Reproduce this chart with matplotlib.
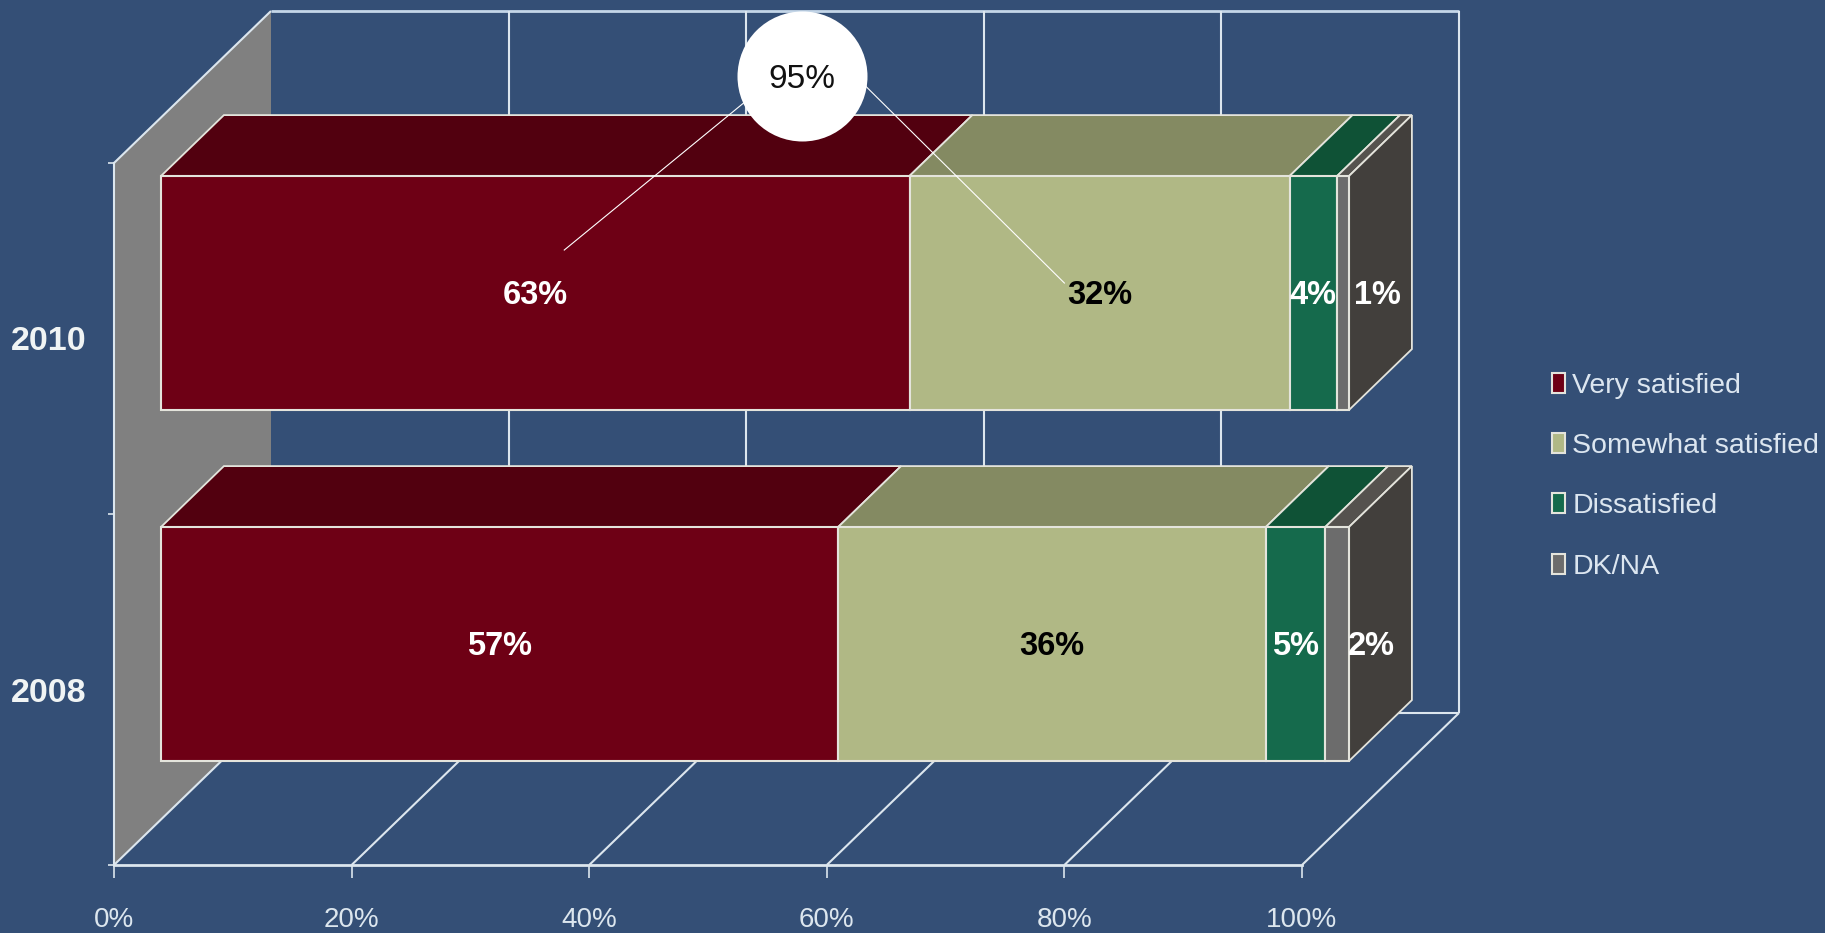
import matplotlib
matplotlib.use("Agg")
import matplotlib.pyplot as plt
from matplotlib.patches import Polygon

# datos del grafico
years = ["2008", "2010"]
series = ["Very satisfied", "Somewhat satisfied", "Dissatisfied", "DK/NA"]
very = [57, 63]
somewhat = [36, 32]
dissatisfied = [5, 4]
dkna = [2, 1]
xticks = [0, 20, 40, 60, 80, 100]
combined_label = "95%"

front_colors = ["#6E0015", "#B0B885", "#156A4C", "#6C6C6C"]
top_colors = ["#52000F", "#848A62", "#0F5236", "#55524E"]
label_colors = [["white", "black", "white", "white"],
                ["white", "black", "white", "white"]]
side_color = "#423F3C"
wall_color = "#808080"
bg = "#344F76"
line = "#DCE6EE"
edge = "#E4E4DC"

W, H = 1825, 933
# plano frontal en pixeles
px_left, px_right, px_bottom, px_top = 114, 1302, 865, 163
DX = 157 / (px_right - px_left) * 100   # desplazamiento de profundidad en unidades x
DY = 152 / (px_bottom - px_top) * 2     # desplazamiento de profundidad en unidades y
BAR_H = 2 / 3
D0, D1 = 0.30, 0.70                     # la barra ocupa esta parte de la profundidad

plt.rcParams["font.family"] = ["Liberation Sans", "DejaVu Sans"]

fig = plt.figure(figsize=(W / 100, H / 100), dpi=100, facecolor=bg)
ax = fig.add_axes([px_left / W, 1 - px_bottom / H, (px_right - px_left) / W, (px_bottom - px_top) / H])
ax.set_facecolor("none")
ax.patch.set_visible(False)
ax.set_xlim(0, 100)
ax.set_ylim(0, 2)


def pt(x, y, d=0.0):
    # proyeccion oblicua: x e y del plano frontal + profundidad d
    return x + d * DX, y + d * DY


def poly(points, color, z, ec=edge, lw=1.3):
    ax.add_patch(Polygon(points, closed=True, facecolor=color, edgecolor=ec, linewidth=lw,
                         joinstyle="miter", clip_on=False, zorder=z))


def seg(a, b, z=2, lw=1.5, color=line):
    ax.plot([a[0], b[0]], [a[1], b[1]], color=color, lw=lw, clip_on=False, zorder=z,
            solid_capstyle="butt")


# pared izquierda
poly([pt(0, 0), pt(0, 2), pt(0, 2, 1), pt(0, 0, 1)], wall_color, 1, ec="none", lw=0)

# pared del fondo y suelo
seg(pt(0, 2), pt(0, 2, 1))
seg(pt(0, 2, 1), pt(100, 2, 1), lw=2, color="#C4D6E8")
seg(pt(0, 0, 1), pt(100, 0, 1))
for t in xticks[1:]:
    seg(pt(t, 0, 1), pt(t, 2, 1))
for t in xticks:
    seg(pt(t, 0), pt(t, 0, 1))

# barras apiladas
rows = [very, somewhat, dissatisfied, dkna]
lefts = [0, 0]
handles = []
for s, vals in enumerate(rows):
    ys = [i + 0.5 + D0 * DY for i in range(len(years))]
    xs = [l + D0 * DX for l in lefts]
    bars = ax.barh(ys, vals, left=xs, height=BAR_H, color=front_colors[s], edgecolor=edge,
                   linewidth=1.5, zorder=5, clip_on=False, label=series[s])
    handles.append(bars)
    for i, v in enumerate(vals):
        y0 = i + 0.5 - BAR_H / 2
        y1 = y0 + BAR_H
        l, r = lefts[i], lefts[i] + v
        poly([pt(l, y1, D0), pt(r, y1, D0), pt(r, y1, D1), pt(l, y1, D1)], top_colors[s], 4)
        # el texto del ultimo tramo cae sobre la cara lateral
        off = 2.9 if s == 3 else 0
        tx, ty = pt(l + v / 2 + off, i + 0.5, D0)
        ax.text(tx, ty - 0.006, f"{v}%", color=label_colors[i][s], fontsize=23.5, fontweight="bold",
                ha="center", va="center", zorder=9, clip_on=False)
    lefts = [l + v for l, v in zip(lefts, vals)]

# cara lateral derecha
for i in range(len(years)):
    y0 = i + 0.5 - BAR_H / 2
    y1 = y0 + BAR_H
    poly([pt(100, y0, D0), pt(100, y1, D0), pt(100, y1, D1), pt(100, y0, D1)], side_color, 4)

# burbuja con el total satisfecho
bubble_x, bubble_y = 57.9, 2.248
ax.plot([bubble_x - 4.9, 37.9], [bubble_y - 0.077, 1.752], color="white", lw=0.8, zorder=7, clip_on=False)
ax.plot([bubble_x + 5.4, 80.0], [bubble_y - 0.030, 1.658], color="white", lw=0.8, zorder=7, clip_on=False)
ax.scatter([bubble_x], [bubble_y], s=8761, color="white", linewidths=0, zorder=8, clip_on=False)
ax.text(bubble_x, bubble_y - 0.01, combined_label, color="#111111", fontsize=24, ha="center", va="center",
        zorder=9, clip_on=False)

# ejes
for name in ["top", "right"]:
    ax.spines[name].set_visible(False)
for name in ["left", "bottom"]:
    ax.spines[name].set_color(line)
    ax.spines[name].set_linewidth(1.5)
ax.spines["bottom"].set_linewidth(2)

ax.set_xticks(xticks)
ax.set_xticklabels([f"{t}%" for t in xticks], fontsize=20, color=line)
ax.tick_params(axis="x", length=9, width=1.2, color=line, pad=21.5)
ax.set_yticks([0, 1, 2])
ax.set_yticklabels([])
ax.set_yticks([0.5, 1.5], minor=True)
ax.set_yticklabels(years, minor=True, fontsize=24.5, fontweight="bold", color="#F0F4F4")
ax.tick_params(axis="y", which="major", length=4, width=1.2, color=line)
ax.tick_params(axis="y", which="minor", length=0, pad=20)

leg = ax.legend(handles=handles, labels=series, loc="upper left", bbox_to_anchor=(1552 / W, 1 - 373 / H),
                bbox_transform=fig.transFigure, frameon=False, fontsize=20.5, borderaxespad=0, borderpad=0,
                handlelength=0.46, handleheight=0.7, handletextpad=0.26, labelspacing=1.2,
                labelcolor="#DCE6F0")

fig.savefig("out.png", dpi=100, facecolor=bg)
